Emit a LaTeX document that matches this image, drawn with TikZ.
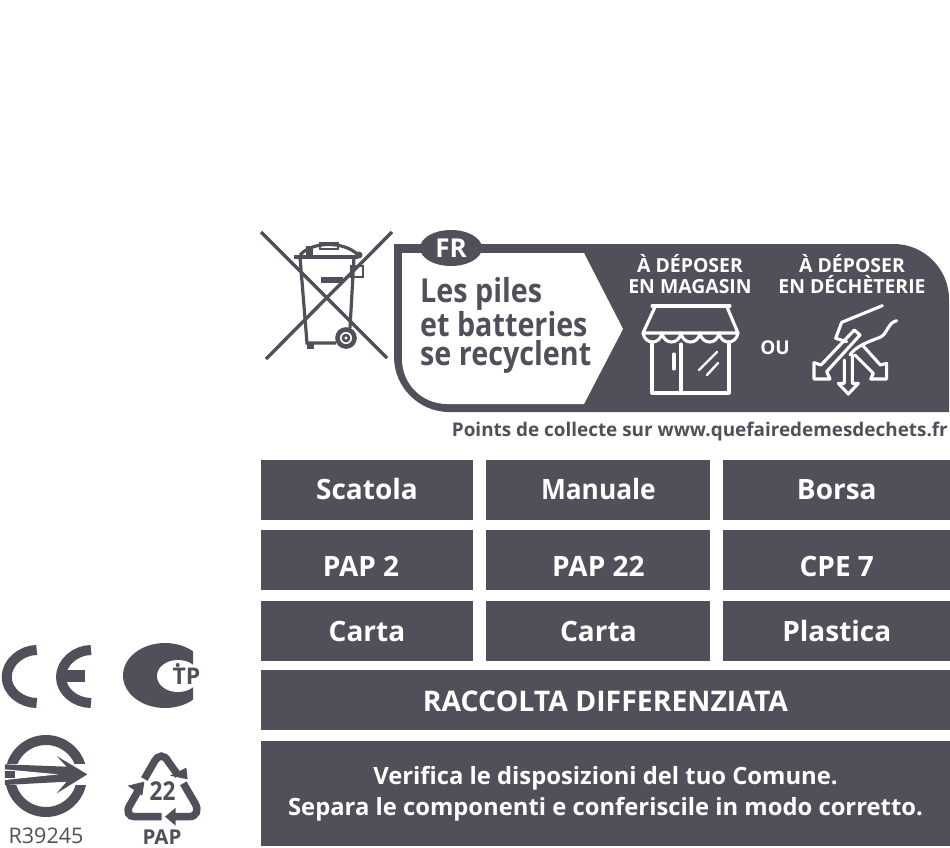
\documentclass[tikz,border=0pt]{standalone}
\usepackage{fontspec}
\setmainfont{Open Sans}
\newfontfamily\tightfont[FakeStretch=0.87]{Open Sans}
\usepackage{tikz}
\usetikzlibrary{positioning,shapes.geometric}
\definecolor{slate}{HTML}{50505A}
\tikzset{
  plate/.style={fill=slate,draw=none,inner sep=0pt,text=white,minimum height=60pt,text height=18pt,text depth=0pt,font=\bfseries\fontsize{28}{30}\selectfont,align=center},
  wordwhite/.style={inner sep=0pt,text=white,font=\bfseries\fontsize{19.4}{21.5}\selectfont,align=center},
  iconline/.style={draw=white,line width=3.1pt,line join=round,line cap=round},
  binline/.style={draw=slate,line width=3.2pt},
  markline/.style={draw=slate,line join=round},
}
\begin{document}
\begin{tikzpicture}[x=1pt,y=-1pt]
  \useasboundingbox (0,0) rectangle (950,847);

  % crossed out bin
  \draw[binline] (294,257) -- (358,257);
  \draw[binline] (300,257) -- (307,343) -- (336,343);
  \draw[binline] (354,257) -- (350,328);
  \draw[binline] (300,255) .. controls (312,241) and (345,241) .. (358,255);
  \draw[binline,line width=2.4pt] (320,243) rectangle (338,249);
  \fill[slate] (321,277) rectangle (343,283);
  \fill[slate] (306,246) rectangle (313,256);
  \fill[slate] (307,342) rectangle (314,349);
  \fill[slate] (359,255) circle[radius=3.5pt];
  \draw[binline,line width=2.4pt] (351,266) rectangle (363,277);
  \draw[slate,line width=4.6pt] (346,338) circle[radius=8.5pt];
  \draw[slate,line width=2.6pt] (346,338) circle[radius=3pt];
  \draw[slate,line width=3.4pt] (261,232) -- (387,358);
  \draw[slate,line width=3.4pt] (392,232) -- (266,359);

  % banner
  \fill[slate] (394,244) -- (894,244) .. controls (924,244) and (949,269) .. (949,299) -- (949,412)
    -- (449,412) .. controls (419,412) and (394,387) .. (394,357) -- cycle;
  \fill[white] (402,253) -- (584,253) -- (623,329) -- (584,404) -- (447,404)
    .. controls (422,404) and (402,384) .. (402,359) -- cycle;
  \node[ellipse,fill=slate,minimum width=62pt,minimum height=36pt,inner sep=0pt,text=white,font=\bfseries\fontsize{26}{28}\selectfont] (fr) at (451,248) {FR};
  \node[anchor=west,inner sep=0pt,text=slate,font=\tightfont\bfseries\fontsize{33}{29}\selectfont,align=left] (piles) at (420,325.5) {Les piles\\et batteries\\se recyclent};
  \node[wordwhite] (magasin) at (690,274) {À DÉPOSER\\EN MAGASIN};
  \node[wordwhite] (decheterie) at (852,274) {À DÉPOSER\\EN DÉCHÈTERIE};
  \node[inner sep=0pt,text=white,font=\bfseries\fontsize{19}{21}\selectfont] (ou) at (775,348) {OU};
  \node[anchor=east,inner sep=0pt,text=slate,font=\bfseries\fontsize{18.9}{20}\selectfont] (points) at (948,432) {Points de collecte sur www.quefairedemesdechets.fr};

  % shop
  \draw[iconline] (652,306) -- (730,306);
  \draw[iconline] (655,307) -- (643,333) -- (738,333) -- (727,307);
  \foreach \xa in {643,662,681,700,719} {
    \draw[iconline] (\xa,333) .. controls (\xa+2,345) and (\xa+17,345) .. (\xa+19,333);
  }
  \draw[iconline] (652,342) -- (652,393) -- (729,393) -- (729,342);
  \draw[iconline] (681,344) -- (681,393);
  \draw[iconline] (674,354) -- (674,369);
  \draw[iconline,line width=2.4pt] (717,352) -- (699,370);
  \draw[iconline,line width=2.4pt] (718,363) -- (707,375);

  % hand and arrows
  \begin{scope}[shift={(805,300)},scale=1/3]
    \draw[iconline] (232,17) -- (110,67) -- (92,115) -- (125,125);
    \draw[iconline] (148,90) -- (48,195) -- (27,188) -- (27,237) -- (75,237) -- (65,215) -- (165,105) -- cycle;
    \draw[iconline] (118,180) -- (118,250) -- (100,250) -- (130,282) -- (160,250) -- (142,250) -- (142,165);
    \draw[iconline] (172,135) -- (226,195) -- (245,190) -- (245,237) -- (197,237) -- (205,220) -- (150,165);
    \draw[iconline] (275,62) .. controls (245,70) and (250,100) .. (225,112) .. controls (190,125) and (150,140) .. (135,165);
  \end{scope}

  % plates
  \node[plate,minimum width=212pt] (scatola) at (367,490) {Scatola};
  \node[plate,minimum width=224pt,right=13pt of scatola] (manuale) {\scalebox{.94}[1]{Manuale}};
  \node[plate,minimum width=228pt,right=12pt of manuale] (borsa) {Borsa};
  \node[plate,minimum width=212pt,below=10pt of scatola] (pap2) {\raisebox{-7pt}{PAP 2\hspace{12pt}}};
  \node[plate,minimum width=224pt,below=10pt of manuale] (pap22) {\raisebox{-7pt}{PAP 22}};
  \node[plate,minimum width=228pt,below=10pt of borsa] (cpe7) {\raisebox{-7pt}{CPE 7}};
  \node[plate,minimum width=212pt,below=10pt of pap2] (carta1) {\raisebox{-2pt}{Carta}};
  \node[plate,minimum width=224pt,below=10pt of pap22] (carta2) {\raisebox{-2pt}{Carta}};
  \node[plate,minimum width=228pt,below=10pt of cpe7] (plastica) {\raisebox{-2pt}{Plastica}};
  \node[plate,minimum width=689pt,font=\bfseries\fontsize{28.4}{31}\selectfont] (raccolta) at (605.5,700) {\raisebox{-2pt}{RACCOLTA DIFFERENZIATA}};
  \node[plate,minimum width=689pt,minimum height=105pt,text height=,text depth=,font=\bfseries\fontsize{23.8}{31}\selectfont] (verifica) at (605.5,793.5) {Verifica le disposizioni del tuo Comune.\\Separa le componenti e conferiscile in modo corretto.};

  % CE mark
  \draw[markline,line width=10pt] (36.7,650) .. controls (22,650) and (6.7,662) .. (6.7,677) .. controls (6.7,692) and (22,703) .. (36.7,703);
  \draw[markline,line width=10pt] (91,650) .. controls (76,650) and (61,662) .. (61,677) .. controls (61,692) and (76,703) .. (91,703);
  \fill[slate] (66,670) rectangle (85,682);

  % TP mark
  \begin{scope}
    \clip (120,640) rectangle (193,712);
    \fill[slate] (165,675.5) ellipse[x radius=42pt,y radius=32.5pt];
  \end{scope}
  \fill[white] (178,676) ellipse[x radius=21pt,y radius=16pt];
  \fill[slate] (177.7,665) circle[radius=2pt];
  \node[inner sep=0pt,text=slate,font=\bfseries\fontsize{23}{24}\selectfont] (tp) at (186.5,676) {TP};

  % arrow in ring
  \draw[slate,line width=10pt] (46,776) circle[radius=36pt];
  \fill[white] (0,763.5) rectangle (92,785);
  \begin{scope}[shift={(0,730)},scale=1/3]
    \fill[slate] (15,103) -- (200,110) -- (170,78) -- (262,133) -- (170,190) -- (200,155) -- (15,165) -- cycle;
    \fill[white] (15,118) -- (175,133) -- (15,150) -- cycle;
    \fill[slate] (15,122) rectangle (45,143);
  \end{scope}
  \node[inner sep=0pt,text=slate,font=\fontsize{21.5}{24}\selectfont] (rcode) at (46,836) {R39245};

  % recycling triangle
  \begin{scope}[shift={(115,745)},scale=1/3]
    \draw[slate,line width=7.5pt] (88,102) -- (118,50) .. controls (130,28) and (148,28) .. (160,50) -- (190,92);
    \fill[slate] (165,92) -- (218,103) -- (214,68) -- cycle;
    \draw[slate,line width=7.5pt] (205,115) -- (240,175) .. controls (252,195) and (245,215) .. (222,215) -- (175,215);
    \fill[slate] (150,215) -- (182,188) -- (182,242) -- cycle;
    \draw[slate,line width=7.5pt] (140,215) -- (60,215) .. controls (40,215) and (33,200) .. (45,180) -- (68,140);
    \fill[slate] (38,122) -- (88,110) -- (82,152) -- cycle;
  \end{scope}
  \node[inner sep=0pt,text=slate,font=\tightfont\bfseries\fontsize{26}{27}\selectfont] (num) at (162.5,791) {22};
  \node[inner sep=0pt,text=slate,font=\bfseries\fontsize{20.5}{22}\selectfont] (pap) at (162,837) {PAP};
\end{tikzpicture}
\end{document}
